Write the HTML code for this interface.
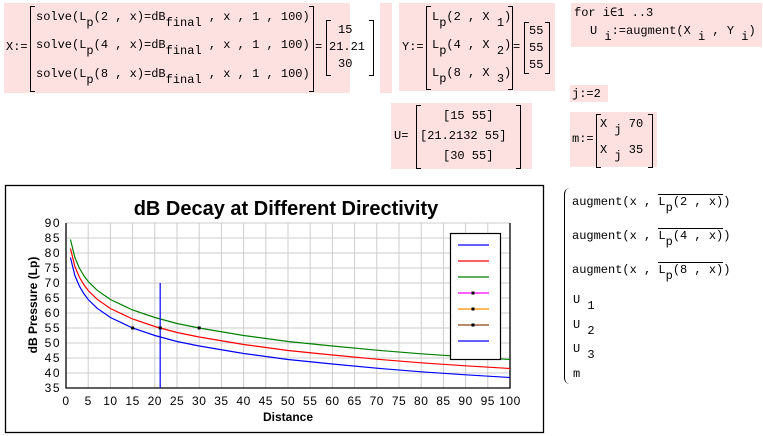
<!DOCTYPE html>
<html><head><meta charset="utf-8"><style>
body{margin:0;width:763px;height:436px;background:#fff;position:relative;overflow:hidden;font-family:"Liberation Mono",monospace;font-size:12px;color:#000}
.pk{position:absolute;background:#fde0e0}
.t{position:absolute;white-space:pre;line-height:14px}
.br{position:absolute;border:1.3px solid #000;width:4px}
.bl{border-right:none}.bR{border-left:none}
sub{font-size:12px;vertical-align:-6px}
</style></head><body>
<div class="pk" style="left:4px;top:3px;width:346px;height:90px"></div>
<div class="pk" style="left:380px;top:3px;width:12px;height:90px"></div>
<div class="pk" style="left:399px;top:3px;width:156px;height:88px"></div>
<div class="pk" style="left:571px;top:3px;width:191px;height:44px"></div>
<div class="pk" style="left:570px;top:85px;width:38px;height:17px"></div>
<div class="pk" style="left:391px;top:103px;width:141px;height:66px"></div>
<div class="pk" style="left:570px;top:112px;width:87px;height:55px"></div>

<div>
<div class="t" style="left:6px;top:40px">X:=</div>
<div class="br bl" style="left:30px;top:6px;height:84px"></div>
<div class="t" style="left:36px;top:10px">solve(L<sub>p</sub>(2 , x)=dB<sub>final</sub> , x , 1 , 100)</div>
<div class="t" style="left:36px;top:38px">solve(L<sub>p</sub>(4 , x)=dB<sub>final</sub> , x , 1 , 100)</div>
<div class="t" style="left:36px;top:67px">solve(L<sub>p</sub>(8 , x)=dB<sub>final</sub> , x , 1 , 100)</div>
<div class="br bR" style="left:309px;top:6px;height:84px"></div>
<div class="t" style="left:315px;top:40px">=</div>
<div class="br bl" style="left:326px;top:20px;height:54px"></div>
<div class="t" style="left:338px;top:23px">15</div>
<div class="t" style="left:329px;top:40px">21.21</div>
<div class="t" style="left:338px;top:57px">30</div>
<div class="br bR" style="left:369px;top:20px;height:54px"></div>
</div>

<div>
<div class="t" style="left:402px;top:40px">Y:=</div>
<div class="br bl" style="left:426px;top:6px;height:82px"></div>
<div class="t" style="left:432px;top:10px">L<sub>p</sub>(2 , X <sub>1</sub>)</div>
<div class="t" style="left:432px;top:38px">L<sub>p</sub>(4 , X <sub>2</sub>)</div>
<div class="t" style="left:432px;top:66px">L<sub>p</sub>(8 , X <sub>3</sub>)</div>
<div class="br bR" style="left:508px;top:6px;height:82px"></div>
<div class="t" style="left:513px;top:40px">=</div>
<div class="br bl" style="left:524px;top:22px;height:50px"></div>
<div class="t" style="left:529px;top:24px">55</div>
<div class="t" style="left:529px;top:41px">55</div>
<div class="t" style="left:529px;top:58px">55</div>
<div class="br bR" style="left:545px;top:22px;height:50px"></div>
</div>

<div>
<div class="t" style="left:574px;top:6px">for i∈1 ..3</div>
<div class="t" style="left:590px;top:24px">U <sub>i</sub>:=augment(X <sub>i</sub> , Y <sub>i</sub>)</div>
</div>
<div class="t" style="left:572px;top:87px">j:=2</div>

<div>
<div class="t" style="left:394px;top:129px">U=</div>
<div class="br bl" style="left:416px;top:105px;height:62px"></div>
<div class="t" style="left:443px;top:109px">[15 55]</div>
<div class="t" style="left:420px;top:129px">[21.2132 55]</div>
<div class="t" style="left:443px;top:149px">[30 55]</div>
<div class="br bR" style="left:516px;top:105px;height:62px"></div>
</div>

<div>
<div class="t" style="left:572px;top:132px">m:=</div>
<div class="br bl" style="left:596px;top:114px;height:52px"></div>
<div class="t" style="left:600px;top:117px">X <sub>j</sub> 70</div>
<div class="t" style="left:600px;top:143px">X <sub>j</sub> 35</div>
<div class="br bR" style="left:648px;top:114px;height:52px"></div>
</div>

<div>
<div style="position:absolute;left:564px;top:188px;width:6px;height:196px;border-left:1.3px solid #000;border-radius:6px 0 0 6px"></div>
<div class="t" style="left:572px;top:195px">augment(x , <span style="border-top:1px solid #000">L<sub>p</sub>(2 , x)</span>)</div>
<div class="t" style="left:572px;top:229px">augment(x , <span style="border-top:1px solid #000">L<sub>p</sub>(4 , x)</span>)</div>
<div class="t" style="left:572px;top:263px">augment(x , <span style="border-top:1px solid #000">L<sub>p</sub>(8 , x)</span>)</div>
<div class="t" style="left:573px;top:293px">U <sub>1</sub></div>
<div class="t" style="left:573px;top:318px">U <sub>2</sub></div>
<div class="t" style="left:573px;top:342px">U <sub>3</sub></div>
<div class="t" style="left:573px;top:367px">m</div>
</div>

<svg id="chart" style="position:absolute;left:0;top:0" width="763" height="436" font-family="Liberation Sans, sans-serif"></svg>
<script>
const xs=[1,2,3,4,5,7,10,15,20,25,30,40,50,60,70,80,90,100];
const q2=[78.5,72.5,69,66.5,64.5,61.6,58.5,55,52.5,50.5,49,46.5,44.5,43,41.6,40.4,39.4,38.5];
const q4=[81.5,75.5,72,69.5,67.5,64.6,61.5,58,55.5,53.5,52,49.5,47.5,46,44.6,43.4,42.4,41.5];
const q8=[84.5,78.5,75,72.5,70.5,67.6,64.5,61,58.5,56.5,55,52.5,50.5,49,47.6,46.4,45.4,44.5];
const ptX=[15,21.21,30];
const ptY=[55,55,55];
const markX=[21.21,21.21];
const markY=[70,35];
const xTicks=[0,5,10,15,20,25,30,35,40,45,50,55,60,65,70,75,80,85,90,95,100];
const yTicks=[35,40,45,50,55,60,65,70,75,80,85,90];
const legendColors=["#0000ff","#ff0000","#008000","#ff00ff","#ff8c00","#8b4513","#0000ff"];
const L=66,R=510,T=223,B=388;
const sx=v=>L+(v-0)/(100-0)*(R-L);
const sy=v=>B-(v-35)/(90-35)*(B-T);
const svg=document.getElementById('chart');
const NS="http://www.w3.org/2000/svg";
function mk(tag,a){const e=document.createElementNS(NS,tag);for(const k in a)e.setAttribute(k,a[k]);svg.appendChild(e);return e;}
let e=mk('rect',{x:5.5,y:185.5,width:538,height:247,fill:'#fff',stroke:'#000','stroke-width':1.3});


e=mk('text',{x:286,y:215,'text-anchor':'middle','font-size':20,'font-weight':'bold'});e.textContent='dB Decay at Different Directivity';


xTicks.forEach(v=>{
 e=mk('line',{x1:sx(v),x2:sx(v),y1:T,y2:B,stroke:'#cccccc'});
 
 
 e=mk('text',{x:sx(v),y:405,'text-anchor':'middle','font-size':12,'letter-spacing':'0.5',fill:'#000'});e.textContent=v;
 
 
});
yTicks.forEach(v=>{
 e=mk('line',{x1:L,x2:R,y1:sy(v),y2:sy(v),stroke:'#cccccc'});
 
 
 e=mk('text',{x:61,y:sy(v)+4,'text-anchor':'end','font-size':12,'letter-spacing':'1.5'});e.textContent=v;
 
 
});
e=mk('polyline',{points:`${L},${T} ${L},${B} ${R},${B} ${R},${T}`,fill:'none',stroke:'#000','stroke-width':1.3});


[[q2,'#0000ff','curve-q2'],[q4,'#ff0000','curve-q4'],[q8,'#008000','curve-q8']].forEach(([ys,c,n])=>{
 e=mk('polyline',{points:xs.map((x,i)=>sx(x)+','+sy(ys[i])).join(' '),fill:'none',stroke:c,'stroke-width':1.2});
 
 
});
e=mk('line',{x1:sx(markX[0]),x2:sx(markX[1]),y1:sy(markY[0]),y2:sy(markY[1]),stroke:'#0000ff','stroke-width':1.2});


ptX.forEach((x,i)=>{
 e=mk('rect',{x:sx(x)-1.5,y:sy(ptY[i])-1.5,width:3,height:3,fill:'#000'});
 
 
});
e=mk('rect',{x:450.5,y:233.5,width:50,height:126,fill:'#fff',stroke:'#000','stroke-width':1.2});


legendColors.forEach((c,i)=>{
 const y=245+i*16;
 e=mk('line',{x1:458,x2:489,y1:y,y2:y,stroke:c,'stroke-width':1.2});
 
 
 if(i>=3&&i<=5){e=mk('rect',{x:471.5,y:y-1.5,width:3,height:3,fill:'#000'});
 
 }
});
e=mk('text',{x:288,y:421,'text-anchor':'middle','font-size':12,'font-weight':'bold'});e.textContent='Distance';


e=mk('text',{x:0,y:0,'text-anchor':'middle','font-size':12,'font-weight':'bold',transform:'translate(37,305) rotate(-90)'});e.textContent='dB Pressure (Lp)';


</script>
</body></html>
